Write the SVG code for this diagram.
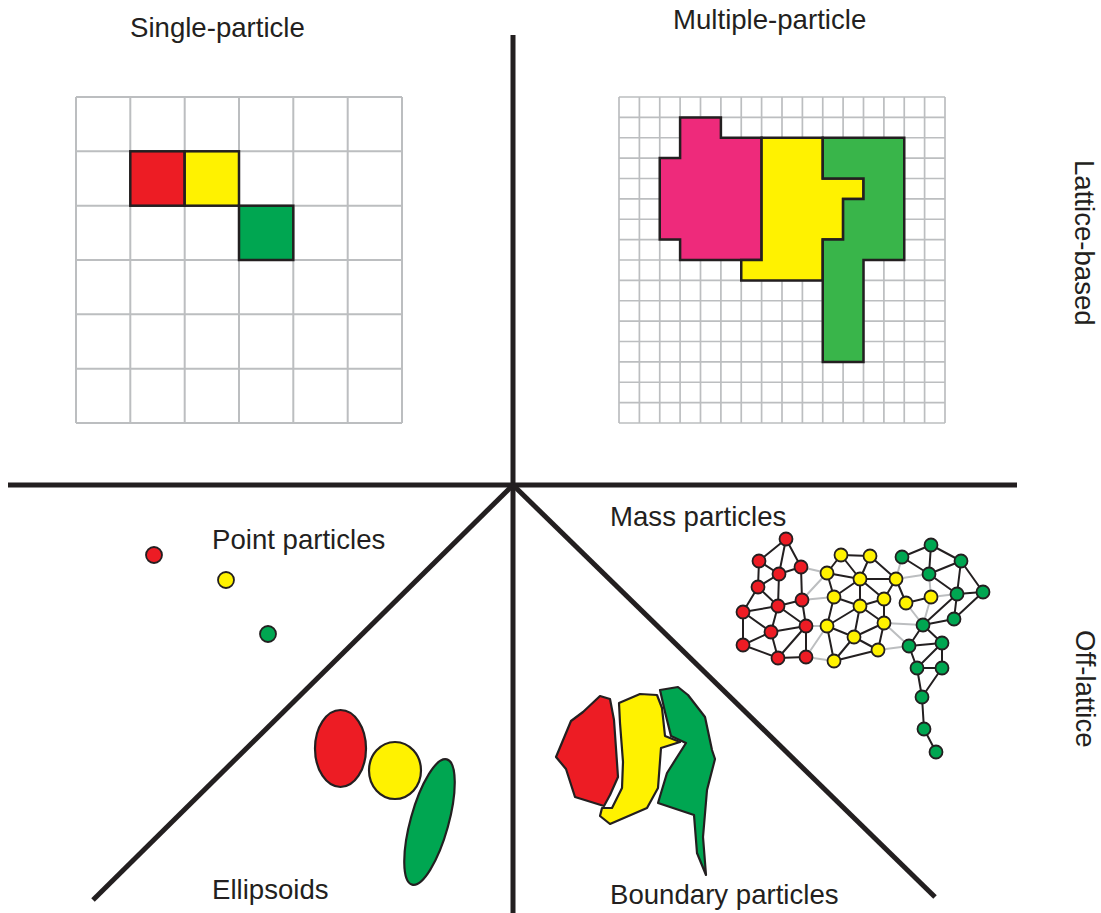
<svg xmlns="http://www.w3.org/2000/svg" width="1101" height="913" viewBox="0 0 1101 913">
<style>
text{font-family:"Liberation Sans",Arial,Helvetica,sans-serif;font-size:27.6px;fill:#231F20}
.grid{fill:none;stroke:#BCBEC0;stroke-width:2}
.gridm{fill:none;stroke:#BCBEC0;stroke-width:1.7}
.axis{stroke:#231F20;stroke-width:5;fill:none;stroke-linecap:butt}
.cell{stroke:#231F20;stroke-width:2.5;stroke-linejoin:miter}
.shape{stroke:#231F20;stroke-width:2.2;stroke-linejoin:round}
.red{fill:#ED1C24}.yel{fill:#FFF200}.grn{fill:#00A651}.pink{fill:#EE2A7B}.lgrn{fill:#39B54A}
.node{stroke:#231F20;stroke-width:1.8}
.e{stroke:#231F20;stroke-width:2;fill:none}
.eg{stroke:#BCBEC0;stroke-width:2;fill:none}
</style>
<rect width="1101" height="913" fill="#fff"/>

<g id="axes">
<line class="axis" x1="513" y1="35" x2="513" y2="913"/>
<line class="axis" x1="8" y1="485" x2="1017" y2="485"/>
<line class="axis" x1="513" y1="485" x2="93" y2="900"/>
<line class="axis" x1="513" y1="485" x2="935" y2="897"/>
</g>

<g id="labels">
<text x="130" y="37">Single-particle</text>
<text x="673" y="29">Multiple-particle</text>
<text transform="translate(1075,160) rotate(90)">Lattice-based</text>
<text transform="translate(1076,630) rotate(90)">Off-lattice</text>
<text x="212" y="549">Point particles</text>
<text x="610" y="526">Mass particles</text>
<text x="212" y="899">Ellipsoids</text>
<text x="610" y="904">Boundary particles</text>
</g>

<g id="single-particle">
<path class="grid" d="M76,97V423M130.3,97V423M184.7,97V423M239,97V423M293.3,97V423M347.7,97V423M402,97V423M76,97H402M76,151.3H402M76,205.7H402M76,260H402M76,314.3H402M76,368.7H402M76,423H402"/>
<rect class="cell red" x="130.3" y="151.3" width="54.4" height="54.4"/>
<rect class="cell yel" x="184.7" y="151.3" width="54.3" height="54.4"/>
<rect class="cell grn" x="239" y="205.7" width="54.3" height="54.3"/>
</g>

<g id="multiple-particle">
<path class="gridm" d="M619,97V423M639.4,97V423M659.75,97V423M680.1,97V423M700.5,97V423M720.9,97V423M741.25,97V423M761.6,97V423M782,97V423M802.4,97V423M822.75,97V423M843.1,97V423M863.5,97V423M883.9,97V423M904.25,97V423M924.6,97V423M945,97V423M619,97H945M619,117.4H945M619,137.75H945M619,158.1H945M619,178.5H945M619,198.9H945M619,219.25H945M619,239.6H945M619,260H945M619,280.4H945M619,300.75H945M619,321.1H945M619,341.5H945M619,361.9H945M619,382.25H945M619,402.6H945M619,423H945"/>
<polygon class="cell pink" points="680.1,117.4 720.9,117.4 720.9,137.75 761.6,137.75 761.6,260 680.1,260 680.1,239.6 659.75,239.6 659.75,158.1 680.1,158.1"/>
<polygon class="cell yel" points="761.6,137.75 822.75,137.75 822.75,178.5 863.5,178.5 863.5,198.9 843.1,198.9 843.1,239.6 822.75,239.6 822.75,280.4 741.25,280.4 741.25,260 761.6,260"/>
<polygon class="cell lgrn" points="822.75,137.75 904.25,137.75 904.25,260 863.5,260 863.5,361.9 822.75,361.9 822.75,239.6 843.1,239.6 843.1,198.9 863.5,198.9 863.5,178.5 822.75,178.5"/>
</g>

<g id="point-particles">
<circle class="node red" cx="154" cy="555" r="8"/>
<circle class="node yel" cx="226" cy="580" r="8"/>
<circle class="node grn" cx="268" cy="634" r="8"/>
</g>

<g id="ellipsoids">
<ellipse class="shape red" cx="340.5" cy="748.5" rx="25.5" ry="38.5"/>
<ellipse class="shape yel" cx="395" cy="770.5" rx="26" ry="28.5"/>
<ellipse class="shape grn" cx="429.5" cy="822" rx="19" ry="65" transform="rotate(15.5 429.5 822)"/>
</g>

<g id="boundary-particles">
<polygon class="shape red" points="600,696 610,699 614,720 618,777 610,795 604,806 575,797 566,769 556,757 571,721 583,712"/>
<polygon class="shape yel" points="619,703 640,694 657,695 662,708 665,736 680,742 661,748 658,788 647,808 610,824 600,816 602,808 612,808 622,788 623,762 620,723"/>
<polygon class="shape grn" points="660,690 678,687 688,695 705,717 712,750 715,759 707,790 703,837 706,875 697,853 694,815 658,803 667,773 686,743 671,736 665,712"/>
</g>

<g id="connectors">
<path class="eg" d="M801,567L827,573M802,600L827,573M802,600L834,597M806,626L827,626M806,657L827,626M806,657L834,661M896,579L902,557M896,579L929,574M931,597L957,594M931,597L923,625M884,623L923,625M884,623L909,646M878,650L909,646M906,603L923,625M929,574L931,597"/>
<path class="e" d="M786,539L759,561M786,539L779,574M786,539L801,567M759,561L779,574M779,574L801,567M759,561L758,587M779,574L758,587M779,574L778,606M801,567L802,600M758,587L778,606M758,587L743,612M778,606L802,600M778,606L743,612M778,606L771,632M778,606L806,626M802,600L806,626M743,612L771,632M743,612L743,645M771,632L806,626M771,632L743,645M771,632L778,658M806,626L778,658M806,626L806,657M778,658L806,657M743,645L778,658"/>
<path class="e" d="M841,555L870,556M841,555L827,573M841,555L860,579M870,556L860,579M870,556L896,579M827,573L860,579M827,573L834,597M860,579L896,579M860,579L834,597M860,579L860,606M860,579L884,599M896,579L884,599M896,579L906,603M834,597L860,606M834,597L827,626M884,599L860,606M884,599L884,623M906,603L931,597M860,606L827,626M860,606L884,623M860,606L854,637M827,626L854,637M827,626L834,661M884,623L854,637M884,623L878,650M854,637L878,650M854,637L834,661M834,661L878,650"/>
<path class="e" d="M931,545L902,557M931,545L961,561M931,545L929,574M902,557L929,574M961,561L929,574M961,561L957,594M961,561L983,592M929,574L957,594M957,594L983,592M957,594L954,619M957,594L923,625M983,592L954,619M954,619L923,625M923,625L942,643M923,625L909,646M942,643L909,646M909,646L917,668M942,643L917,668M942,643L942,668M917,668L942,668M917,668L922,697M942,668L922,697M922,697L924,729M924,729L936,752"/>
</g>

<g id="mass-particles">
<g class="node red">
<circle cx="786" cy="539" r="6.5"/><circle cx="759" cy="561" r="6.5"/><circle cx="779" cy="574" r="6.5"/><circle cx="801" cy="567" r="6.5"/><circle cx="758" cy="587" r="6.5"/><circle cx="778" cy="606" r="6.5"/><circle cx="802" cy="600" r="6.5"/><circle cx="743" cy="612" r="6.5"/><circle cx="771" cy="632" r="6.5"/><circle cx="806" cy="626" r="6.5"/><circle cx="743" cy="645" r="6.5"/><circle cx="778" cy="658" r="6.5"/><circle cx="806" cy="657" r="6.5"/>
</g>
<g class="node yel">
<circle cx="841" cy="555" r="6.5"/><circle cx="870" cy="556" r="6.5"/><circle cx="827" cy="573" r="6.5"/><circle cx="860" cy="579" r="6.5"/><circle cx="896" cy="579" r="6.5"/><circle cx="834" cy="597" r="6.5"/><circle cx="884" cy="599" r="6.5"/><circle cx="906" cy="603" r="6.5"/><circle cx="931" cy="597" r="6.5"/><circle cx="860" cy="606" r="6.5"/><circle cx="827" cy="626" r="6.5"/><circle cx="884" cy="623" r="6.5"/><circle cx="854" cy="637" r="6.5"/><circle cx="878" cy="650" r="6.5"/><circle cx="834" cy="661" r="6.5"/>
</g>
<g class="node grn">
<circle cx="931" cy="545" r="6.5"/><circle cx="902" cy="557" r="6.5"/><circle cx="961" cy="561" r="6.5"/><circle cx="929" cy="574" r="6.5"/><circle cx="957" cy="594" r="6.5"/><circle cx="983" cy="592" r="6.5"/><circle cx="954" cy="619" r="6.5"/><circle cx="923" cy="625" r="6.5"/><circle cx="942" cy="643" r="6.5"/><circle cx="909" cy="646" r="6.5"/><circle cx="917" cy="668" r="6.5"/><circle cx="942" cy="668" r="6.5"/><circle cx="922" cy="697" r="6.5"/><circle cx="924" cy="729" r="6.5"/><circle cx="936" cy="752" r="6.5"/>
</g>
</g>
</svg>
